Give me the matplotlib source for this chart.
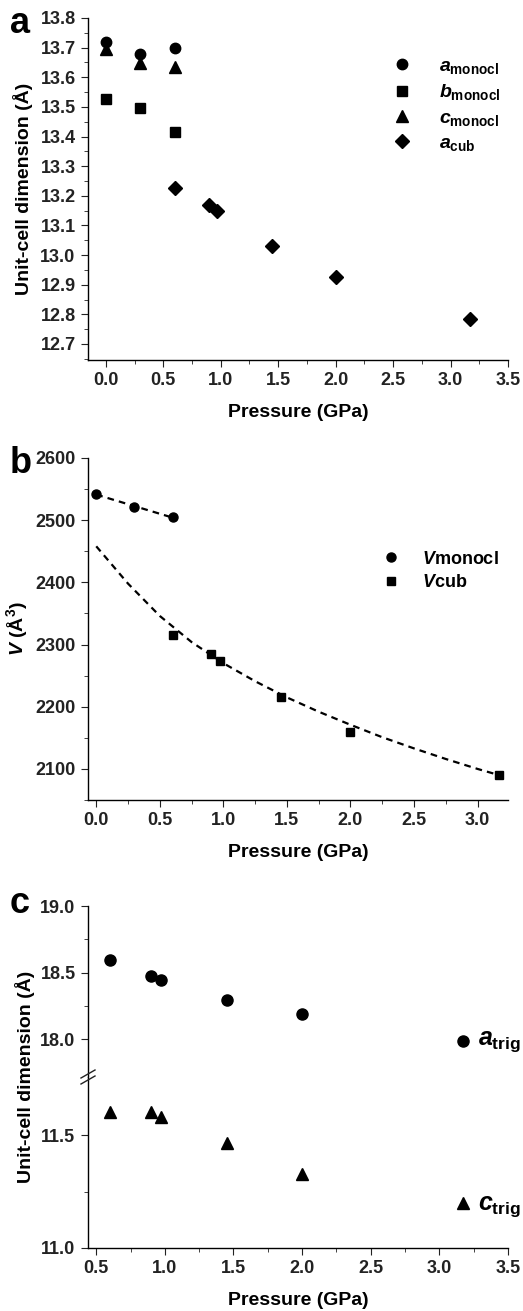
import numpy as np
import matplotlib
matplotlib.use("Agg")
import matplotlib.pyplot as plt
from matplotlib.ticker import MultipleLocator, FixedLocator, FormatStrFormatter
from matplotlib.lines import Line2D

# panel a: unit-cell dimensions vs pressure
p_monocl = [0.0, 0.3, 0.6]
a_monocl = [13.72, 13.68, 13.70]
b_monocl = [13.525, 13.495, 13.415]
c_monocl = [13.695, 13.648, 13.635]
p_cub = [0.6, 0.9, 0.97, 1.45, 2.0, 3.17]
a_cub = [13.227, 13.168, 13.148, 13.03, 12.927, 12.785]

# panel b: volume
v_monocl = [2542, 2521, 2505]
v_cub = [2315, 2285, 2274, 2215, 2160, 2091]
# dashed EoS curve
fit_p = [0.0, 0.25, 0.5, 0.75, 1.0, 1.25, 1.5, 1.75, 2.0, 2.25, 2.5, 2.75, 3.0, 3.17]
fit_v = [2458, 2398, 2346, 2304, 2270, 2241, 2215, 2192, 2171, 2151, 2133, 2116, 2100, 2090]

# panel c: trigonal
p_trig = [0.6, 0.9, 0.97, 1.45, 2.0, 3.17]
a_trig = [18.595, 18.475, 18.445, 18.295, 18.19, 17.99]
c_trig = [11.603, 11.60, 11.58, 11.463, 11.326, 11.20]

plt.rcParams['font.family'] = ['Liberation Sans', 'DejaVu Sans']
plt.rcParams['font.weight'] = 'bold'
plt.rcParams['axes.labelweight'] = 'bold'
plt.rcParams['mathtext.fontset'] = 'custom'
plt.rcParams['mathtext.it'] = 'Liberation Sans:italic:bold'
plt.rcParams['mathtext.rm'] = 'Liberation Sans:bold'
plt.rcParams['mathtext.bf'] = 'Liberation Sans:bold'
plt.rcParams['axes.linewidth'] = 1.0
plt.rcParams['xtick.major.size'] = 5
plt.rcParams['ytick.major.size'] = 5
plt.rcParams['xtick.minor.size'] = 3
plt.rcParams['ytick.minor.size'] = 3
plt.rcParams['xtick.major.pad'] = 3.5
plt.rcParams['ytick.major.pad'] = 4
plt.rcParams['xtick.labelsize'] = 13
plt.rcParams['ytick.labelsize'] = 13
plt.rcParams['axes.labelsize'] = 14

W, H = 523, 1311
fig = plt.figure(figsize=(W / 100, H / 100), dpi=100)


def box(left, top, right, bottom):
    return [left / W, 1 - bottom / H, (right - left) / W, (bottom - top) / H]


def clean(ax):
    ax.spines['top'].set_visible(False)
    ax.spines['right'].set_visible(False)
    ax.tick_params(which='both', direction='out', colors='#222222')


# ---- a ----
ax1 = fig.add_axes(box(88, 18, 508, 360))
clean(ax1)
ax1.plot(p_monocl, a_monocl, 'o', color='black', ms=7.5, label=r'$a_{\mathrm{monocl}}$')
ax1.plot(p_monocl, b_monocl, 's', color='black', ms=6.5, label=r'$b_{\mathrm{monocl}}$')
ax1.plot(p_monocl, c_monocl, '^', color='black', ms=8, label=r'$c_{\mathrm{monocl}}$')
ax1.plot(p_cub, a_cub, 'D', color='black', ms=7, label=r'$a_{\mathrm{cub}}$')
ax1.set_xlim(-0.155, 3.5)
ax1.set_ylim(12.646, 13.8)
ax1.xaxis.set_major_locator(MultipleLocator(0.5))
ax1.xaxis.set_minor_locator(MultipleLocator(0.25))
ax1.yaxis.set_major_locator(MultipleLocator(0.1))
ax1.yaxis.set_minor_locator(MultipleLocator(0.05))
ax1.set_xlabel('Pressure (GPa)', labelpad=11)
ax1.set_ylabel('Unit-cell dimension (Å)', labelpad=5)
ax1.legend(loc='upper left', bbox_to_anchor=(0.725, 0.886), frameon=False,
           borderpad=0, borderaxespad=0, handlelength=1.0, handletextpad=1.4,
           labelspacing=0.35, fontsize=14)

# ---- b ----
ax2 = fig.add_axes(box(88, 458, 508, 800))
clean(ax2)
k, c0 = np.polyfit(p_monocl, v_monocl, 1)
pl = np.array([0.0, 0.62])
ax2.plot(pl, k * pl + c0, color='black', lw=1.6, ls=(0, (3, 2.3)))
ax2.plot(fit_p, fit_v, color='black', lw=1.6, ls=(0, (3, 2.3)))
ax2.plot(p_monocl, v_monocl, 'o', color='black', ms=6.5, label=r'$V$monocl')
ax2.plot(p_cub, v_cub, 's', color='black', ms=5.5, label=r'$V$cub')
ax2.set_xlim(-0.065, 3.24)
ax2.set_ylim(2050, 2600)
ax2.xaxis.set_major_locator(MultipleLocator(0.5))
ax2.xaxis.set_minor_locator(MultipleLocator(0.25))
ax2.yaxis.set_major_locator(MultipleLocator(100))
ax2.yaxis.set_minor_locator(MultipleLocator(50))
ax2.set_xlabel('Pressure (GPa)', labelpad=11)
ax2.set_ylabel(r'$V$ (Å$^3$)', labelpad=4)
ax2.legend(loc='upper left', bbox_to_anchor=(0.70, 0.729), frameon=False,
           borderpad=0, borderaxespad=0, handlelength=1.0, handletextpad=1.2,
           labelspacing=0.35, fontsize=13)

# ---- c (broken axis) ----
ax3u = fig.add_axes(box(88, 906, 508, 1077))
ax3l = fig.add_axes(box(88, 1077, 508, 1248), sharex=ax3u)
for ax in (ax3u, ax3l):
    clean(ax)
ax3u.spines['bottom'].set_visible(False)
ax3u.tick_params(axis='x', which='both', bottom=False, labelbottom=False)

ax3u.plot(p_trig, a_trig, 'o', color='black', ms=8)
ax3l.plot(p_trig, c_trig, '^', color='black', ms=8.5)
ax3u.annotate(r'$a_{\mathrm{trig}}$', (p_trig[-1], a_trig[-1]), xytext=(11, -1),
              textcoords='offset points', va='center', ha='left', fontsize=18,
              annotation_clip=False)
ax3l.annotate(r'$c_{\mathrm{trig}}$', (p_trig[-1], c_trig[-1]), xytext=(11, -3),
              textcoords='offset points', va='center', ha='left', fontsize=18,
              annotation_clip=False)

ax3u.set_ylim(17.717, 19.0)
ax3l.set_ylim(11.0, 11.757)
ax3l.set_xlim(0.44, 3.5)
ax3l.xaxis.set_major_locator(MultipleLocator(0.5))
ax3l.xaxis.set_minor_locator(MultipleLocator(0.25))
ax3u.yaxis.set_major_locator(FixedLocator([18.0, 18.5, 19.0]))
ax3u.yaxis.set_minor_locator(FixedLocator([18.25, 18.75]))
ax3l.yaxis.set_major_locator(FixedLocator([11.0, 11.5]))
ax3l.yaxis.set_minor_locator(FixedLocator([11.25]))
ax3u.yaxis.set_major_formatter(FormatStrFormatter('%.1f'))
ax3l.yaxis.set_major_formatter(FormatStrFormatter('%.1f'))
ax3l.set_xlabel('Pressure (GPa)', labelpad=11)
fig.text(25 / W, 1 - 1077 / H, 'Unit-cell dimension (Å)', rotation=90,
         ha='center', va='center', fontsize=14, fontweight='bold')

# break marks on the left spine
for dy in (-3, 3):
    fig.add_artist(Line2D([81 / W, 95 / W], [1 - (1077 + dy + 4) / H, 1 - (1077 + dy - 4) / H],
                          transform=fig.transFigure, color='#222222', lw=1.0))

# panel letters
for letter, ybase in (('a', 33), ('b', 473), ('c', 913)):
    fig.text(10 / W, 1 - ybase / H, letter, fontsize=26, fontweight='bold',
             ha='left', va='baseline')

fig.savefig('out.png', dpi=100)
